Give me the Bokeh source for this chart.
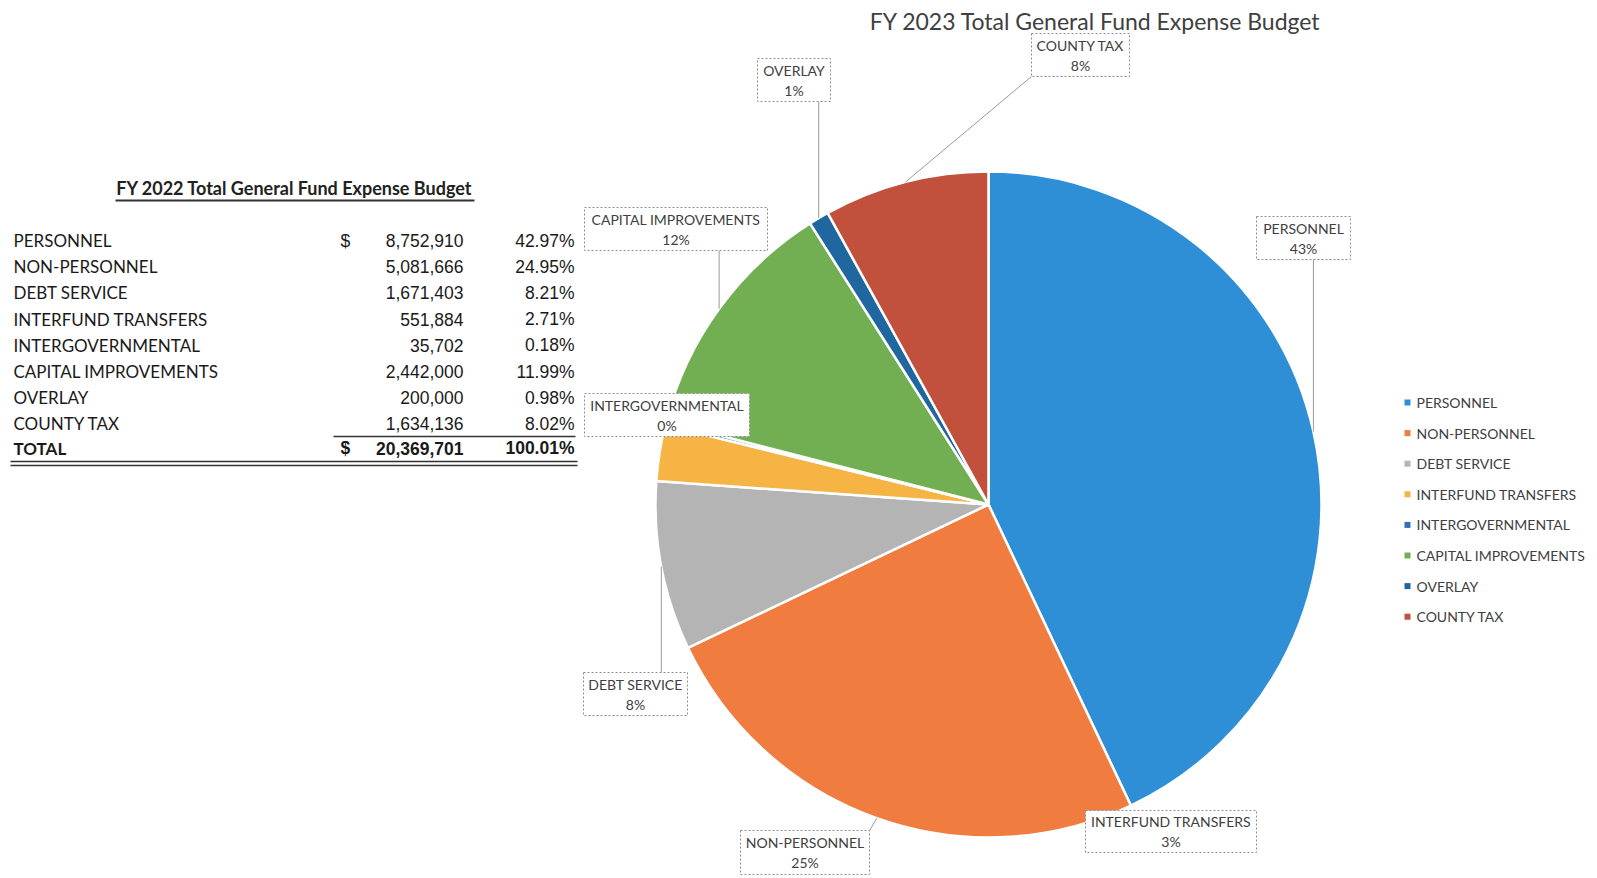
import math
from bokeh.plotting import figure
from bokeh.models import Range1d, ColumnDataSource
from bokeh.core.properties import value
from bokeh.embed import file_html
from bokeh.resources import INLINE

# ---- budget data -------------------------------------------------------
categories = ["PERSONNEL", "NON-PERSONNEL", "DEBT SERVICE", "INTERFUND TRANSFERS",
              "INTERGOVERNMENTAL", "CAPITAL IMPROVEMENTS", "OVERLAY", "COUNTY TAX"]
amounts = [8752910, 5081666, 1671403, 551884, 35702, 2442000, 200000, 1634136]
table_pcts = ["42.97%", "24.95%", "8.21%", "2.71%", "0.18%", "11.99%", "0.98%", "8.02%"]
total_amount = 20369701
total_pct = "100.01%"

# ---- styling -----------------------------------------------------------
colors = ["#2E8FD6", "#F07C40", "#B4B4B4", "#F6B445", "#3470B5", "#72AF52", "#1F679E", "#C1513D"]
W, H = 1597, 878
CX, CY, R = 988, 504, 333          # pie centre / radius in page pixels
LABEL_FONT = value("Lato")
NUM_FONT = value("Liberation Sans")


def Y(s):
    """page (top-down) pixel row -> plot y"""
    return H - s


p = figure(width=W, height=H, x_range=Range1d(0, W), y_range=Range1d(0, H),
           output_backend="svg", toolbar_location=None, x_axis_type=None,
           y_axis_type=None, min_border=0)
p.grid.visible = False
p.outline_line_color = None
p.background_fill_color = "white"
p.border_fill_color = "white"

# ---- left table --------------------------------------------------------
p.text(x=[294], y=[Y(187)], text=["FY 2022 Total General Fund Expense Budget"],
       text_font=LABEL_FONT, text_font_style="bold", text_font_size="18px",
       text_align="center", text_baseline="middle", text_color="#222222")
p.segment(x0=[115], y0=[Y(200)], x1=[474], y1=[Y(200)], line_color="#333333", line_width=2)

row_y = [Y(240 + i * 26.2) for i in range(len(categories))]
tbl = ColumnDataSource(dict(
    y=row_y, name=categories,
    amt=[f"{a:,}" for a in amounts], pct=table_pcts,
))
p.text(x=13, y="y", text="name", source=tbl, text_font=LABEL_FONT,
       text_font_size="17px", text_baseline="middle", text_color="#1a1a1a")
p.text(x=463, y="y", text="amt", source=tbl, text_font=NUM_FONT,
       text_font_size="17.5px", text_align="right", text_baseline="middle",
       text_color="#1a1a1a")
p.text(x=574, y="y", text="pct", source=tbl, text_font=NUM_FONT,
       text_font_size="17.5px", text_align="right", text_baseline="middle",
       text_color="#1a1a1a")
p.text(x=[340], y=[row_y[0]], text=["$"], text_font=NUM_FONT, text_font_size="17.5px",
       text_baseline="middle", text_color="#1a1a1a")

ty = Y(240 + len(categories) * 26.2 - 2)
p.segment(x0=[333], y0=[Y(436)], x1=[575], y1=[Y(436)], line_color="#333333", line_width=1.5)
p.text(x=[13], y=[ty], text=["TOTAL"], text_font=LABEL_FONT, text_font_style="bold",
       text_font_size="17px", text_baseline="middle", text_color="#1a1a1a")
p.text(x=[340], y=[ty], text=["$"], text_font=NUM_FONT, text_font_style="bold",
       text_font_size="17.5px", text_baseline="middle", text_color="#1a1a1a")
p.text(x=[463], y=[ty], text=[f"{total_amount:,}"], text_font=NUM_FONT,
       text_font_style="bold", text_font_size="17.5px", text_align="right",
       text_baseline="middle", text_color="#1a1a1a")
p.text(x=[574], y=[ty], text=[total_pct], text_font=NUM_FONT, text_font_style="bold",
       text_font_size="17.5px", text_align="right", text_baseline="middle",
       text_color="#1a1a1a")
p.segment(x0=[10, 10], y0=[Y(461), Y(465)], x1=[577, 577], y1=[Y(461), Y(465)],
          line_color="#333333", line_width=1.5)

# ---- pie ---------------------------------------------------------------
total = sum(amounts)
shares = [a / total for a in amounts]
starts, ends, c = [], [], 0.0
for s in shares:
    starts.append(math.pi / 2 - 2 * math.pi * c)
    c += s
    ends.append(math.pi / 2 - 2 * math.pi * c)

pie = ColumnDataSource(dict(start=starts, end=ends, color=colors, name=categories))
p.wedge(x=CX, y=Y(CY), radius=R, start_angle="start", end_angle="end",
        direction="clock", fill_color="color", line_color="white", line_width=2.5,
        source=pie)

p.text(x=[1095], y=[Y(20)], text=["FY 2023 Total General Fund Expense Budget"],
       text_font=LABEL_FONT, text_font_size="23px", text_align="center",
       text_baseline="middle", text_color="#404040")

# ---- data labels: dashed call-out boxes --------------------------------
# box centre (x, y), width, height, whether a leader line is drawn
callouts = {
    "PERSONNEL": (1303, 237.5, 94, 43, True),
    "NON-PERSONNEL": (804.5, 852, 129, 44, True),
    "DEBT SERVICE": (635, 693.5, 104, 43, True),
    "INTERFUND TRANSFERS": (1170.5, 831, 171, 42, False),
    "INTERGOVERNMENTAL": (666.5, 414.5, 165, 43, False),
    "CAPITAL IMPROVEMENTS": (675.5, 228.5, 183, 43, True),
    "OVERLAY": (793.5, 79.5, 73, 43, True),
    "COUNTY TAX": (1080, 54.5, 98, 43, True),
}

lx0, ly0, lx1, ly1 = [], [], [], []
bx, by, bw, bh, t1, t2, tx, ty1, ty2 = [], [], [], [], [], [], [], [], []
cum = 0.0
for name, s in zip(categories, shares):
    mid = cum + s / 2
    cum += s
    ang = 2 * math.pi * mid
    ex, ey = CX + R * math.sin(ang), CY - R * math.cos(ang)
    cx_, cy_, w_, h_, lead = callouts[name]
    if lead:
        nx = min(max(ex, cx_ - w_ / 2), cx_ + w_ / 2)
        ny = min(max(ey, cy_ - h_ / 2), cy_ + h_ / 2)
        lx0.append(nx); ly0.append(Y(ny)); lx1.append(ex); ly1.append(Y(ey))
    bx.append(cx_); by.append(Y(cy_)); bw.append(w_); bh.append(h_)
    t1.append(name); t2.append(f"{round(s * 100)}%")
    tx.append(cx_); ty1.append(Y(cy_ - 10)); ty2.append(Y(cy_ + 10))

p.segment(x0=lx0, y0=ly0, x1=lx1, y1=ly1, line_color="#9a9a9a", line_width=1)
boxes = ColumnDataSource(dict(x=bx, y=by, w=bw, h=bh, t1=t1, t2=t2, tx=tx, ty1=ty1, ty2=ty2))
p.rect(x="x", y="y", width="w", height="h", source=boxes, fill_color="white",
       line_color="#8c8c8c", line_dash="2 2", line_width=1)
p.text(x="tx", y="ty1", text="t1", source=boxes, text_font=LABEL_FONT,
       text_font_size="14px", text_align="center", text_baseline="middle",
       text_color="#404040")
p.text(x="tx", y="ty2", text="t2", source=boxes, text_font=LABEL_FONT,
       text_font_size="14px", text_align="center", text_baseline="middle",
       text_color="#404040")

# ---- legend ------------------------------------------------------------
leg_y = [Y(402 + i * 30.6) for i in range(len(categories))]
leg = ColumnDataSource(dict(y=leg_y, name=categories, color=colors))
p.scatter(x=1407, y="y", source=leg, marker="square", size=6, fill_color="color",
          line_color=None)
p.text(x=1416, y="y", text="name", source=leg, text_font=LABEL_FONT,
       text_font_size="14px", text_baseline="middle", text_color="#404040")

open("out.html", "w").write(file_html(p, INLINE))
